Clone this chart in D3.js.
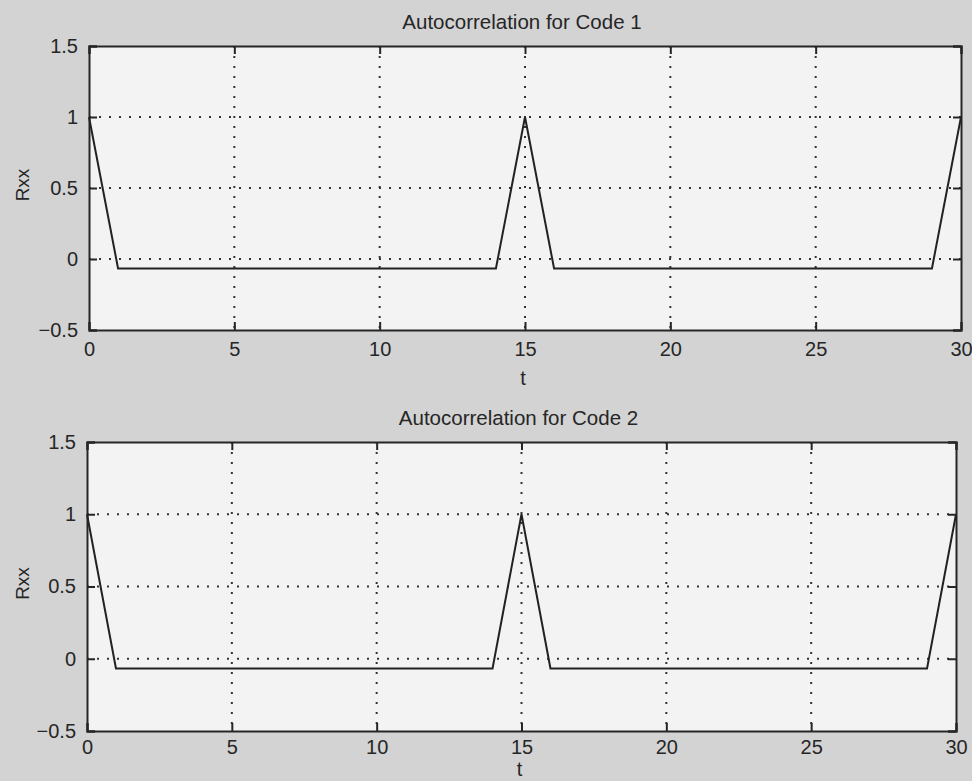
<!DOCTYPE html>
<html>
<head>
<meta charset="utf-8">
<script src="https://cdn.jsdelivr.net/npm/d3@7"></script>
<style>
  body { margin: 0; background: #d3d3d3; }
  svg { display: block; }
  text { font-family: "Liberation Sans", Arial, sans-serif; fill: #262626; }
</style>
</head>
<body>
<svg id="chart" width="972" height="781"></svg>
<script>
// lag values 0..30
const lags = [0, 1, 2, 3, 4, 5, 6, 7, 8, 9, 10, 11, 12, 13, 14, 15,
              16, 17, 18, 19, 20, 21, 22, 23, 24, 25, 26, 27, 28, 29, 30];

// autocorrelation (flat floor at about -0.067)
const rxxCode1 = [1, -0.067, -0.067, -0.067, -0.067, -0.067, -0.067, -0.067, -0.067, -0.067, -0.067,
                  -0.067, -0.067, -0.067, -0.067, 1, -0.067, -0.067, -0.067, -0.067, -0.067,
                  -0.067, -0.067, -0.067, -0.067, -0.067, -0.067, -0.067, -0.067, -0.067, 1];
const rxxCode2 = [1, -0.067, -0.067, -0.067, -0.067, -0.067, -0.067, -0.067, -0.067, -0.067, -0.067,
                  -0.067, -0.067, -0.067, -0.067, 1, -0.067, -0.067, -0.067, -0.067, -0.067,
                  -0.067, -0.067, -0.067, -0.067, -0.067, -0.067, -0.067, -0.067, -0.067, 1];

const xTicks = [0, 5, 10, 15, 20, 25, 30];
const yTicks = [-0.5, 0, 0.5, 1, 1.5];
const titles = ["Autocorrelation for Code 1", "Autocorrelation for Code 2"];

const svg = d3.select("#chart");

// rough box of each subplot in the page
const panels = [
  {left: 89, right: 961, top: 46, bottom: 330, values: rxxCode1, title: titles[0], tGap: 55, pad: 12},
  {left: 87, right: 956, top: 442, bottom: 731, values: rxxCode2, title: titles[1], tGap: 45, pad: 9}
];

function drawPanel(p) {
  const x = d3.scaleLinear().domain([0, 30]).range([p.left, p.right]);
  const y = d3.scaleLinear().domain([-0.5, 1.5]).range([p.bottom, p.top]);

  const g = svg.append("g");

  g.append("rect")
    .attr("x", p.left).attr("y", p.top)
    .attr("width", p.right - p.left).attr("height", p.bottom - p.top)
    .attr("fill", "#f3f3f3");

  // dotted grid at inner ticks
  g.selectAll(".vgrid")
    .data(xTicks.slice(1, -1))
    .join("line")
    .attr("x1", d => x(d)).attr("x2", d => x(d))
    .attr("y1", p.top).attr("y2", p.bottom)
    .attr("stroke", "#333").attr("stroke-width", 2)
    .attr("stroke-dasharray", "2,8");

  g.selectAll(".hgrid")
    .data(yTicks.slice(1, -1))
    .join("line")
    .attr("x1", p.left).attr("x2", p.right)
    .attr("y1", d => y(d)).attr("y2", d => y(d))
    .attr("stroke", "#333").attr("stroke-width", 2)
    .attr("stroke-dasharray", "2,8");

  // axes: bottom/left with labels, top/right only ticks
  const bottomAxis = d3.axisBottom(x).tickValues(xTicks).tickSize(-8).tickPadding(p.pad).tickFormat(d3.format("d"));
  const leftAxis = d3.axisLeft(y).tickValues(yTicks).tickSize(-8).tickPadding(11).tickFormat(d => d3.format("")(d).replace("-", "\u2212"));
  const topAxis = d3.axisTop(x).tickValues(xTicks).tickSize(-8).tickFormat("");
  const rightAxis = d3.axisRight(y).tickValues(yTicks).tickSize(-8).tickFormat("");

  const style = a => a.call(s => {
    s.selectAll("path.domain").attr("stroke", "#262626").attr("stroke-width", 2);
    s.selectAll(".tick line").attr("stroke", "#262626").attr("stroke-width", 2);
    s.selectAll(".tick text").style("font-size", "20px").attr("fill", "#262626")
      .style("font-family", '"Liberation Sans", Arial, sans-serif');
  });

  g.append("g").attr("transform", `translate(0,${p.bottom})`).call(bottomAxis).call(style);
  g.append("g").attr("transform", `translate(${p.left},0)`).call(leftAxis).call(style);
  g.append("g").attr("transform", `translate(0,${p.top})`).call(topAxis).call(style);
  g.append("g").attr("transform", `translate(${p.right},0)`).call(rightAxis).call(style);

  const line = d3.line()
    .x((d, i) => x(lags[i]))
    .y(d => y(d));

  g.append("path")
    .datum(p.values)
    .attr("fill", "none")
    .attr("stroke", "#222")
    .attr("stroke-width", 2)
    .attr("stroke-linejoin", "miter")
    .attr("d", line);

  g.append("text")
    .attr("x", (p.left + p.right) / 2 - 3)
    .attr("y", p.top - 17)
    .attr("text-anchor", "middle")
    .style("font-size", "20.5px")
    .text(p.title);

  g.append("text")
    .attr("x", (p.left + p.right) / 2 - 2)
    .attr("y", p.bottom + p.tGap)
    .attr("text-anchor", "middle")
    .style("font-size", "20px")
    .text("t");

  g.append("text")
    .attr("transform", `translate(29,${y(0.5) - 3}) rotate(-90)`)
    .attr("text-anchor", "middle")
    .style("font-size", "19px")
    .text("Rxx");
}

panels.forEach(drawPanel);
</script>
</body>
</html>
